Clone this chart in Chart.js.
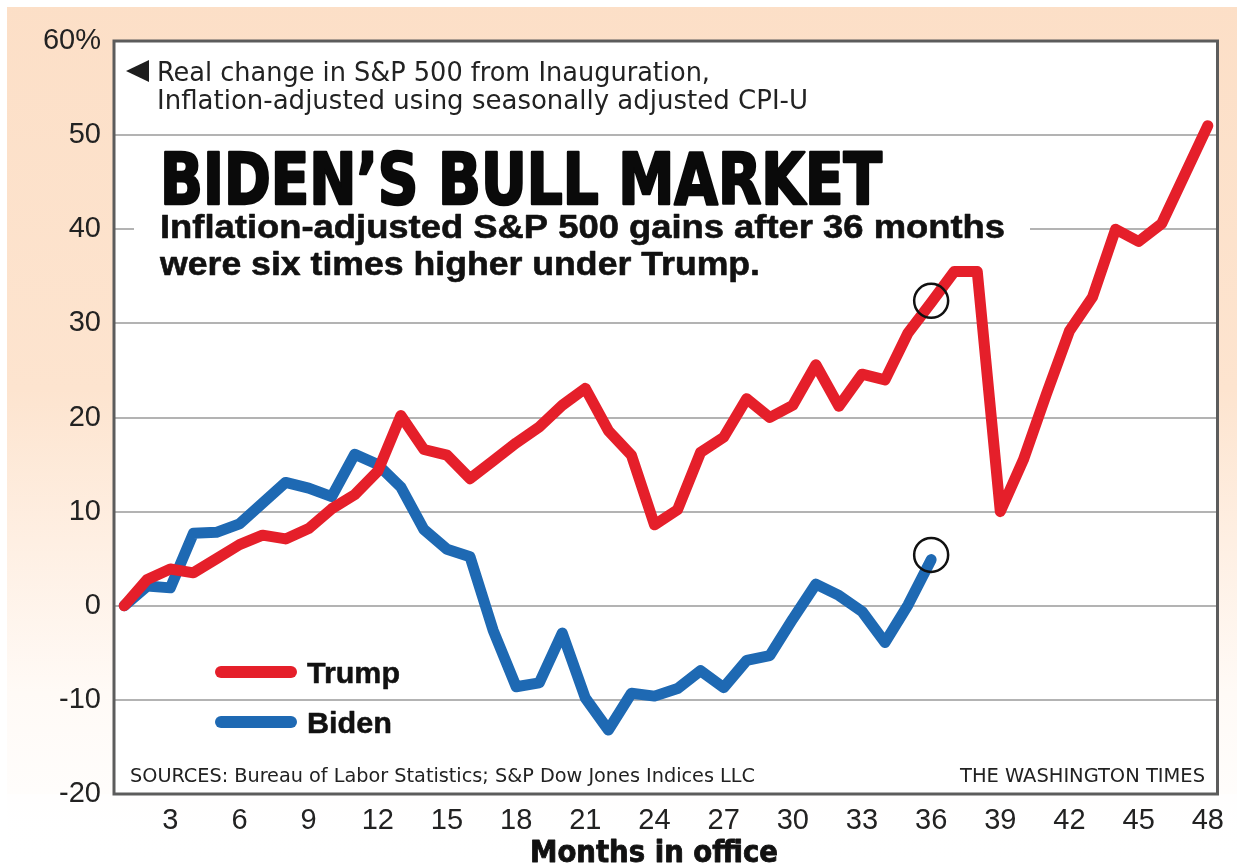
<!DOCTYPE html>
<html>
<head>
<meta charset="utf-8">
<script src="https://cdn.jsdelivr.net/npm/chart.js@4.4.1/dist/chart.umd.min.js"></script>
<style>
  html, body { margin: 0; padding: 0; background: #ffffff; }
  #wrap { width: 1237px; height: 865px; }
</style>
</head>
<body>
<div id="wrap"><canvas id="c" width="1237" height="865"></canvas></div>
<script>
// ---------------- DATA ----------------
const months = [1,2,3,4,5,6,7,8,9,10,11,12,13,14,15,16,17,18,19,20,21,22,23,24,
                25,26,27,28,29,30,31,32,33,34,35,36,37,38,39,40,41,42,43,44,45,46,47,48];
const trumpValues = [0,2.8,3.9,3.5,5.0,6.5,7.5,7.1,8.2,10.3,11.8,14.3,20.2,16.6,16.0,13.5,15.4,17.3,19.0,21.3,
                     23.1,18.6,16.0,8.6,10.2,16.3,17.9,22.0,20.0,21.3,25.6,21.2,24.6,24.0,29.0,32.2,35.5,35.5,
                     10.0,15.5,22.5,29.2,32.8,40.0,38.7,40.6,45.8,51.0];
const bidenValues = [0,2.1,1.9,7.7,7.8,8.7,10.9,13.1,12.5,11.6,16.1,15.0,12.6,8.1,6.0,5.2,-2.6,-8.6,-8.2,-2.9,
                     -9.8,-13.2,-9.3,-9.6,-8.8,-6.9,-8.7,-5.8,-5.3,-1.4,2.3,1.1,-0.6,-3.9,0.1,4.9];
const markerMonths = [36, 36];
const markerValues = [32.4, 5.4];
const xTickValues = [3,6,9,12,15,18,21,24,27,30,33,36,39,42,45,48];
const yTickValues = [-20,-10,0,10,20,30,40,50,60];
const yTickLabels = ['-20','-10','0','10','20','30','40','50','60%'];
const seriesNames = ['Trump', 'Biden'];

const RED = '#e51f2a';
const BLUE = '#1e69b3';

// ---------------- helpers ----------------
function drawFit(ctx, text, x, y, w, font, color, align, stroke) {
  ctx.save();
  ctx.font = font;
  ctx.fillStyle = color;
  ctx.textBaseline = 'alphabetic';
  ctx.textAlign = 'left';
  const m = ctx.measureText(text).width;
  const s = w / m;
  ctx.translate(x, y);
  ctx.scale(s, 1);
  const x0 = align === 'right' ? -m : (align === 'center' ? -m / 2 : 0);
  if (stroke) {
    ctx.strokeStyle = color;
    ctx.lineWidth = stroke;
    ctx.lineJoin = 'round';
    ctx.strokeText(text, x0, 0);
  }
  ctx.fillText(text, x0, 0);
  ctx.restore();
}

const NARROW = "'Liberation Sans Narrow', 'DejaVu Sans Condensed', 'Liberation Sans', sans-serif";
const SANS = "'Liberation Sans', Arial, sans-serif";

const backgroundPlugin = {
  id: 'bg',
  beforeDraw(chart) {
    const ctx = chart.ctx;
    const W = chart.width, H = chart.height;
    const a = chart.chartArea;
    ctx.save();
    ctx.fillStyle = '#ffffff';
    ctx.fillRect(0, 0, W, H);
    const g = ctx.createLinearGradient(0, 0, 0, H);
    g.addColorStop(0, '#fcdfc7');
    g.addColorStop(0.45, '#fde4cf');
    g.addColorStop(0.8, '#fffaf6');
    g.addColorStop(1, '#ffffff');
    ctx.fillStyle = g;
    ctx.fillRect(7, 7, W - 7, H - 7);
    // white band below plot
    const g2 = ctx.createLinearGradient(0, a.bottom, 0, H);
    g2.addColorStop(0, 'rgba(255,255,255,0.7)');
    g2.addColorStop(1, 'rgba(255,255,255,1)');
    ctx.fillStyle = g2;
    ctx.fillRect(7, a.bottom, W - 7, H - a.bottom);
    ctx.fillStyle = '#ffffff';
    ctx.fillRect(a.left, a.top, a.right - a.left, a.bottom - a.top);
    ctx.restore();
  },
  beforeDatasetsDraw(chart) {
    const ctx = chart.ctx;
    const a = chart.chartArea;
    const ys = chart.scales.y;
    ctx.save();
    // white box behind headline text (hides part of the 40 gridline)
    const y40 = ys.getPixelForValue(40);
    ctx.fillStyle = '#ffffff';
    ctx.fillRect(134, y40 - 5, 1030 - 134, 10);
    // plot border
    ctx.strokeStyle = '#5c5c5c';
    ctx.lineWidth = 3;
    ctx.strokeRect(a.left, a.top, a.right - a.left, a.bottom - a.top);
    ctx.restore();
  },
  afterDraw(chart) {
    const ctx = chart.ctx;
    ctx.save();
    // caption
    ctx.fillStyle = '#1e1e1e';
    ctx.beginPath();
    ctx.moveTo(126, 71);
    ctx.lineTo(149, 60);
    ctx.lineTo(149, 82);
    ctx.closePath();
    ctx.fill();
    drawFit(ctx, 'Real change in S&P 500 from Inauguration,', 157, 81, 553, '27px ' + NARROW, '#222', 'left');
    drawFit(ctx, 'Inflation-adjusted using seasonally adjusted CPI-U', 157, 109, 651, '27px ' + NARROW, '#222', 'left');
    // headline
    drawFit(ctx, 'BIDEN\u2019S BULL MARKET', 160, 204, 722, 'bold 72px ' + NARROW, '#0a0a0a', 'left', 2.5);
    drawFit(ctx, 'Inflation-adjusted S&P 500 gains after 36 months', 160, 238, 845, 'bold 34px ' + SANS, '#111', 'left', 0.6);
    drawFit(ctx, 'were six times higher under Trump.', 160, 275, 600, 'bold 34px ' + SANS, '#111', 'left', 0.6);
    // legend
    const legendY = [672, 722];
    const legendColors = [RED, BLUE];
    for (let i = 0; i < 2; i++) {
      ctx.strokeStyle = legendColors[i];
      ctx.lineWidth = 12;
      ctx.lineCap = 'round';
      ctx.beginPath();
      ctx.moveTo(221, legendY[i]);
      ctx.lineTo(291, legendY[i]);
      ctx.stroke();
      drawFit(ctx, seriesNames[i], 307, legendY[i] + 11, i === 0 ? 93 : 85, 'bold 30px ' + SANS, '#111', 'left', 0.5);
    }
    // sources and credit
    drawFit(ctx, 'SOURCES: Bureau of Labor Statistics; S&P Dow Jones Indices LLC', 130, 782, 625, '19px ' + NARROW, '#222', 'left');
    drawFit(ctx, 'THE WASHINGTON TIMES', 1205, 782, 245, '19px ' + NARROW, '#222', 'right');
    // x axis title
    drawFit(ctx, 'Months in office', 654, 862, 248, 'bold 30px ' + NARROW, '#111', 'center', 0.8);
    ctx.restore();
  }
};

const ctx = document.getElementById('c').getContext('2d');
new Chart(ctx, {
  type: 'line',
  data: {
    datasets: [
      {
        label: 'markers',
        data: markerMonths.map((m, i) => ({ x: m, y: markerValues[i] })),
        showLine: false,
        pointRadius: 17,
        pointHoverRadius: 17,
        pointBorderWidth: 2.5,
        pointBorderColor: '#111111',
        pointBackgroundColor: 'rgba(0,0,0,0)',
        borderColor: '#111111',
        order: 0
      },
      {
        label: seriesNames[0],
        data: months.map((m, i) => ({ x: m, y: trumpValues[i] })),
        borderColor: RED,
        backgroundColor: RED,
        borderWidth: 11,
        pointRadius: 0,
        tension: 0,
        borderJoinStyle: 'round',
        borderCapStyle: 'round',
        order: 1
      },
      {
        label: seriesNames[1],
        data: months.slice(0, bidenValues.length).map((m, i) => ({ x: m, y: bidenValues[i] })),
        borderColor: BLUE,
        backgroundColor: BLUE,
        borderWidth: 11,
        pointRadius: 0,
        tension: 0,
        borderJoinStyle: 'round',
        borderCapStyle: 'round',
        order: 2
      }
    ]
  },
  options: {
    responsive: false,
    animation: false,
    devicePixelRatio: 1,
    layout: { padding: { top: 41, right: 16, left: 0, bottom: 0 } },
    plugins: {
      legend: { display: false },
      tooltip: { enabled: false },
      title: { display: false }
    },
    scales: {
      x: {
        type: 'linear',
        min: 0.557,
        max: 48.42,
        afterBuildTicks(scale) { scale.ticks = xTickValues.map(v => ({ value: v })); },
        afterFit(scale) { scale.height = 71; },
        grid: { display: false, drawTicks: false },
        border: { display: false },
        ticks: {
          autoSkip: false,
          maxRotation: 0,
          padding: 10,
          color: '#222',
          font: { family: SANS, size: 29 },
          callback: (v) => String(v)
        }
      },
      y: {
        type: 'linear',
        min: -20,
        max: 60,
        afterBuildTicks(scale) { scale.ticks = yTickValues.map(v => ({ value: v })); },
        afterFit(scale) { scale.width = 114; },
        grid: {
          drawTicks: false,
          lineWidth: 2,
          color: (c) => (c.tick && (c.tick.value === -20 || c.tick.value === 60)) ? 'rgba(0,0,0,0)' : '#b3b3b3'
        },
        border: { display: false },
        ticks: {
          padding: 13,
          color: '#222',
          font: { family: SANS, size: 29 },
          callback: (v) => yTickLabels[yTickValues.indexOf(v)]
        }
      }
    }
  },
  plugins: [backgroundPlugin]
});
</script>
</body>
</html>
